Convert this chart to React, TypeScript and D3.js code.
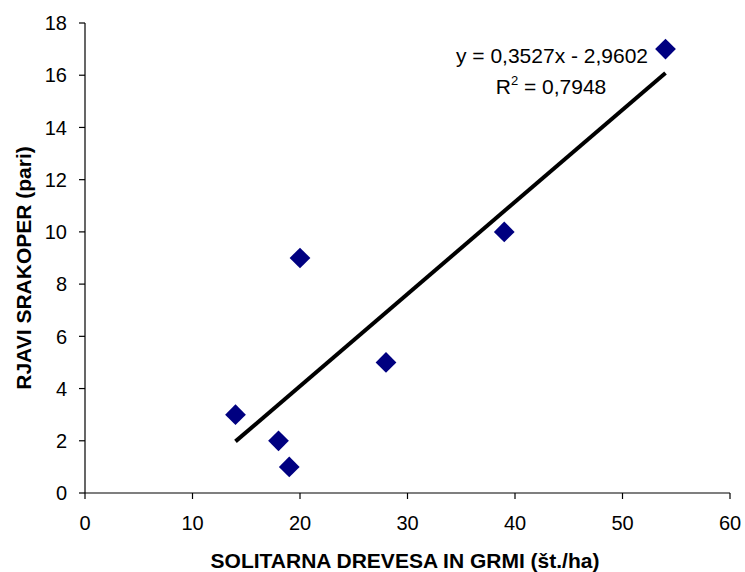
import React from 'react';
import * as d3 from 'd3';

// solitary trees & shrubs (per ha) vs. red-backed shrike pairs
const treesPerHa = [14, 18, 19, 20, 28, 39, 54];
const shrikePairs = [3, 2, 1, 9, 5, 10, 17];
const slope = 0.3527;
const intercept = -2.9602;
const xTicks = [0, 10, 20, 30, 40, 50, 60];
const yTicks = [0, 2, 4, 6, 8, 10, 12, 14, 16, 18];

const W = 745;
const H = 572;
const margin = { left: 85, right: 15, top: 23, bottom: 79 };
const font = '"Liberation Sans", Arial, sans-serif';

export default function App() {
  const x = d3.scaleLinear().domain([0, 60]).range([margin.left, W - margin.right]);
  const y = d3.scaleLinear().domain([0, 18]).range([H - margin.bottom, margin.top]);

  const x0 = d3.min(treesPerHa)!;
  const x1 = d3.max(treesPerHa)!;
  const trend = d3.line<number>()
    .x(d => x(d))
    .y(d => y(slope * d + intercept));

  const diamond = d3.symbol().type(d3.symbolSquare).size(215)();

  return (
    <svg width={W} height={H} style={{ position: 'absolute', left: 0, top: 0, background: '#fff' }}
      fontFamily={font}>
      {/* y axis */}
      <line x1={x(0)} x2={x(0)} y1={y(0)} y2={y(18)} stroke="#000" strokeWidth={1.2} />
      {yTicks.map(t => (
        <g key={t}>
          <line x1={x(0) - 6} x2={x(0)} y1={y(t)} y2={y(t)} stroke="#000" strokeWidth={1.2} />
          <text x={x(0) - 18} y={y(t)} dy="0.36em" textAnchor="end" fontSize={20}>{t}</text>
        </g>
      ))}
      {/* x axis */}
      <line x1={x(0)} x2={x(60)} y1={y(0)} y2={y(0)} stroke="#000" strokeWidth={1.2} />
      {xTicks.map(t => (
        <g key={t}>
          <line x1={x(t)} x2={x(t)} y1={y(0)} y2={y(0) + 6} stroke="#000" strokeWidth={1.2} />
          <text x={x(t)} y={y(0) + 37} textAnchor="middle" fontSize={20}>{t}</text>
        </g>
      ))}

      {/* trend line */}
      <path d={trend([x0, x1]) ?? ''} stroke="#000" strokeWidth={4} fill="none" />

      {/* points */}
      {treesPerHa.map((v, i) => (
        <path key={i} d={diamond ?? ''} fill="#000080"
          transform={`translate(${x(v)},${y(shrikePairs[i])}) rotate(45)`} />
      ))}

      {/* equation */}
      <text x={552} y={63} textAnchor="middle" fontSize={21}>y = 0,3527x - 2,9602</text>
      <text x={551} y={94} textAnchor="middle" fontSize={21}>
        R<tspan dy={-9} fontSize={13}>2</tspan><tspan dy={9}> = 0,7948</tspan>
      </text>

      {/* axis titles */}
      <text x={405} y={568} textAnchor="middle" fontSize={21} fontWeight="bold">
        SOLITARNA DREVESA IN GRMI (št./ha)
      </text>
      <text transform={`translate(31,268) rotate(-90)`} textAnchor="middle"
        fontSize={21} fontWeight="bold">
        RJAVI SRAKOPER (pari)
      </text>
    </svg>
  );
}
